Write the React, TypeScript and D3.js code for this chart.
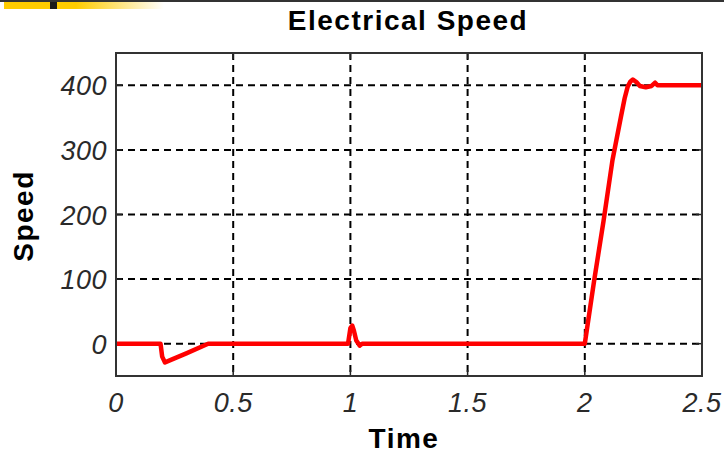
import React from "react";
import * as d3 from "d3";

// Simulated electrical speed response of the drive
const time: number[] = [
  0, 0.19, 0.197, 0.209, 0.3, 0.393, 0.99, 0.995, 1.0, 1.008, 1.015, 1.025, 1.04, 1.05, 2.0,
  2.04, 2.08, 2.118, 2.154, 2.17, 2.183, 2.195, 2.205, 2.22, 2.235, 2.26, 2.285, 2.3, 2.31, 2.5,
];
const speed: number[] = [
  0, 0, -20, -29, -15, 0, 0, 12, 24, 28, 20, 5, -3, 0, 0,
  98, 190, 284, 351, 380, 398, 406, 409, 405, 399, 397, 399, 404, 400, 400,
];

const xTicks: number[] = [0, 0.5, 1, 1.5, 2, 2.5];
const yTicks: number[] = [0, 100, 200, 300, 400];
const xTickLabels: string[] = ["0", "0.5", "1", "1.5", "2", "2.5"];
const yTickLabels: string[] = ["0", "100", "200", "300", "400"];

const title = "Electrical Speed";
const xLabel = "Time";
const yLabel = "Speed";

const W = 724;
const H = 453;
const left = 116;
const right = 702;
const top = 53;
const bottom = 376;

export default function App() {
  const x = d3.scaleLinear().domain([0, 2.5]).range([left, right]);
  const y = d3.scaleLinear().domain([-50, 450]).range([bottom, top]);
  const pts = time.map((t, i) => [t, speed[i]] as [number, number]);
  const line = d3
    .line<[number, number]>()
    .x((d) => x(d[0]))
    .y((d) => y(d[1]));

  const tickFont = {
    fontFamily: "'Liberation Sans', Arial, sans-serif",
    fontStyle: "italic" as const,
    fontSize: 27,
    fill: "#2a2a2a",
    letterSpacing: 0.5,
  };
  const boldFont = {
    fontFamily: "'Liberation Sans', Arial, sans-serif",
    fontWeight: 700,
    fontSize: 28,
    fill: "#000",
    letterSpacing: 1.5,
  };

  return (
    <svg
      width={W}
      height={H}
      style={{ position: "absolute", left: 0, top: 0, background: "#fff" }}
    >
      <defs>
        <linearGradient id="bar" x1="0" x2="1" y1="0" y2="0">
          <stop offset="0" stopColor="#ffcc00" />
          <stop offset="0.45" stopColor="#ffcc00" />
          <stop offset="1" stopColor="#ffffff" />
        </linearGradient>
        <clipPath id="plot">
          <rect x={left} y={top} width={right - left} height={bottom - top} />
        </clipPath>
      </defs>
      <rect x={0} y={0} width={W} height={H} fill="#fff" />
      {/* header strip */}
      <rect x={0} y={0} width={W} height={2} fill="#333" />
      <rect x={4} y={2} width={160} height={7} fill="url(#bar)" />
      <rect x={50} y={2} width={7} height={7} fill="#1a1a1a" />

      <text x={408} y={30} textAnchor="middle" {...boldFont}>
        {title}
      </text>

      {/* grid */}
      <g stroke="#000" strokeWidth={2} strokeDasharray="7,5">
        {xTicks.slice(1, -1).map((t) => (
          <line key={"gx" + t} x1={x(t)} x2={x(t)} y1={top} y2={bottom} />
        ))}
        {yTicks.map((t) => (
          <line key={"gy" + t} x1={left} x2={right} y1={y(t)} y2={y(t)} />
        ))}
      </g>

      {/* tick marks */}
      <g stroke="#222" strokeWidth={1.5}>
        {xTicks.map((t) => (
          <g key={"tx" + t}>
            <line x1={x(t)} x2={x(t)} y1={bottom} y2={bottom - 6} />
            <line x1={x(t)} x2={x(t)} y1={top} y2={top + 6} />
          </g>
        ))}
        {yTicks.map((t) => (
          <g key={"ty" + t}>
            <line x1={left} x2={left + 6} y1={y(t)} y2={y(t)} />
            <line x1={right} x2={right - 6} y1={y(t)} y2={y(t)} />
          </g>
        ))}
      </g>

      <path
        d={line(pts) || ""}
        fill="none"
        stroke="#ff0000"
        strokeWidth={4.5}
        strokeLinejoin="round"
        clipPath="url(#plot)"
      />

      <rect
        x={left}
        y={top}
        width={right - left}
        height={bottom - top}
        fill="none"
        stroke="#333"
        strokeWidth={2}
      />

      {xTicks.map((t, i) => (
        <text key={"lx" + t} x={x(t)} y={412} textAnchor="middle" {...tickFont}>
          {xTickLabels[i]}
        </text>
      ))}
      {yTicks.map((t, i) => (
        <text key={"ly" + t} x={107} y={y(t) + 10} textAnchor="end" {...tickFont}>
          {yTickLabels[i]}
        </text>
      ))}

      <text x={404} y={448} textAnchor="middle" {...boldFont}>
        {xLabel}
      </text>
      <text
        transform={`translate(33,216) rotate(-90)`}
        textAnchor="middle"
        {...boldFont}
      >
        {yLabel}
      </text>
    </svg>
  );
}
